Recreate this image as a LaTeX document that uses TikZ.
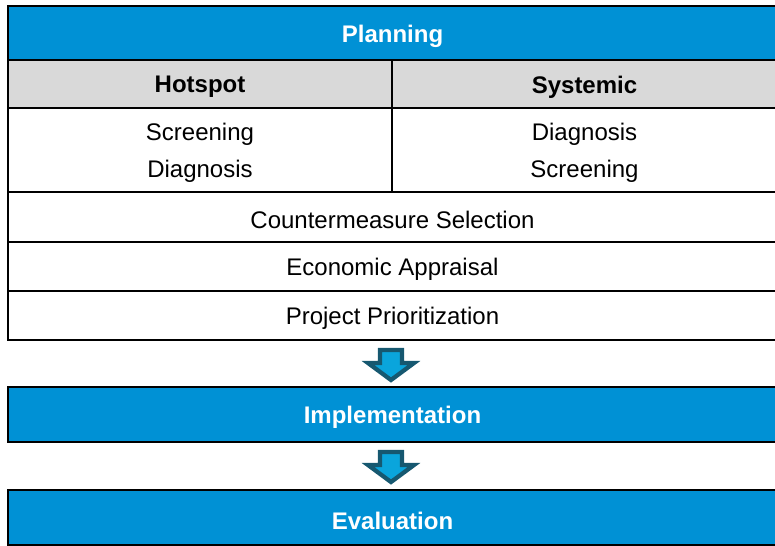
\documentclass[tikz,border=0pt]{standalone}
\usepackage{fontspec}
\setmainfont{Liberation Sans}
\definecolor{hdrblue}{RGB}{0,145,213}
\definecolor{hdrgray}{RGB}{217,217,217}
\definecolor{arrdark}{RGB}{22,88,112}
\definecolor{arrfill}{RGB}{10,165,220}
\begin{document}
\begin{tikzpicture}[x=0.75pt,y=-0.75pt,
  cell/.style={draw=black,line width=1.5pt},
  bluecell/.style={cell,fill=hdrblue},
  graycell/.style={cell,fill=hdrgray},
  txt/.style={yshift=-2.25pt},
  wlabel/.style={txt,text=white,font=\fontsize{18}{21}\selectfont\bfseries},
  blabel/.style={txt,text=black,font=\fontsize{18}{21}\selectfont\bfseries},
  plabel/.style={txt,text=black,font=\fontsize{18}{21}\selectfont},
  twolines/.style={txt,text=black,align=center,font=\fontsize{18}{27.75}\selectfont},
  blockarrow/.style={draw=arrdark,fill=arrfill,line width=3.2pt,line join=miter}]
\useasboundingbox (0,0) rectangle (775,546);
% planning table
\draw[bluecell] (8,6) rectangle (777,60) node[midway,wlabel] (plan) {Planning};
\draw[graycell] (8,60) rectangle (392,108) node[midway,blabel] (hot) {Hotspot};
\draw[graycell] (392,60) rectangle (777,108) node[midway,blabel] (sys) {Systemic};
\draw[cell] (8,108) rectangle (392,192) node[midway,twolines] (hotc) {Screening\\Diagnosis};
\draw[cell] (392,108) rectangle (777,192) node[midway,twolines] (sysc) {Diagnosis\\Screening};
\draw[cell] (8,192) rectangle (777,242) node[midway,plabel] (cms) {Countermeasure Selection};
\draw[cell] (8,242) rectangle (777,291) node[midway,plabel] (eco) {Economic Appraisal};
\draw[cell] (8,291) rectangle (777,340) node[midway,plabel] (prio) {Project Prioritization};
% implementation and evaluation
\draw[bluecell] (8,387) rectangle (777,442) node[midway,wlabel] (impl) {Implementation};
\draw[bluecell] (8,490) rectangle (777,545) node[midway,wlabel] (eval) {Evaluation};
% block arrows
\coordinate (a1) at (391,348);
\coordinate (a2) at (391,450);
\foreach \a in {a1,a2}{
  \begin{scope}[shift={(\a)}]
    \draw[blockarrow] (-11,2) -- (11,2) -- (11,15) -- (23,15) -- (0,32) -- (-23,15) -- (-11,15) -- cycle;
  \end{scope}
}
\end{tikzpicture}
\end{document}
